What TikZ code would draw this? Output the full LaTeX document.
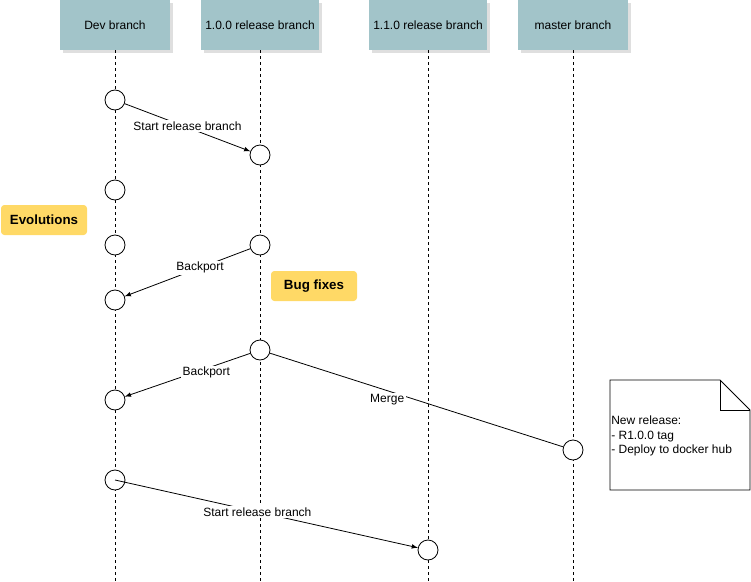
\documentclass[tikz,border=0pt]{standalone}
\usepackage{fontspec}
\setmainfont{Liberation Sans}
\usetikzlibrary{positioning,arrows,shadows}
\definecolor{branchfill}{HTML}{A2C4C9}
\definecolor{notefill}{HTML}{FFD966}
\tikzset{
branchbox/.style={
  rectangle,
  fill=branchfill,
  minimum width=82.5pt,
  minimum height=37.5pt,
  drop shadow={shadow xshift=2pt, shadow yshift=-2pt, fill=black!25}
  },
lifeline/.style={
  dash pattern=on 2.25pt off 2.25pt,
  line width=0.6pt
  },
commit/.style={
  circle,
  draw,
  fill=white,
  inner sep=0pt,
  minimum size=15pt,
  line width=0.6pt
  },
tagbox/.style={
  rectangle,
  rounded corners=2.5pt,
  fill=notefill,
  minimum width=64.5pt,
  minimum height=22.5pt,
  font=\bfseries
  },
msg/.style={
  ->,
  line width=0.6pt
  },
msglabel/.style={
  fill=white,
  inner sep=1pt
  }
}

\begin{document}
\begin{tikzpicture}[>=latex, x=0.75pt, y=-0.75pt, font=\fontsize{9}{11}\selectfont]
\useasboundingbox (0,0) rectangle (751,582);

% branch headers
\node[branchbox] (devh) at (115,25) {Dev branch};
\node[branchbox] (relah) at (260,25) {1.0.0 release branch};
\node[branchbox] (relbh) at (428,25) {1.1.0 release branch};
\node[branchbox] (masth) at (573,25) {master branch};

\coordinate (devend) at (115,582);
\coordinate (relaend) at (260,582);
\coordinate (relbend) at (428,582);
\coordinate (mastend) at (573,582);

\draw[lifeline] (devh.south) -- (devend);
\draw[lifeline] (relah.south) -- (relaend);
\draw[lifeline] (relbh.south) -- (relbend);
\draw[lifeline] (masth.south) -- (mastend);

% commits
\node[commit] (dev1) at (115,100) {};
\node[commit] (dev2) at (115,190) {};
\node[commit] (dev3) at (115,245) {};
\node[commit] (dev4) at (115,300) {};
\node[commit] (dev5) at (115,400) {};
\node[commit] (dev6) at (115,480) {};
\node[commit] (rela1) at (260,155) {};
\node[commit] (rela2) at (260,245) {};
\node[commit] (rela3) at (260,350) {};
\node[commit] (relb1) at (428,550) {};
\node[commit] (mast1) at (573,450) {};

% notes
\node[tagbox] (evol) at (44,220) {Evolutions};
\node[tagbox] (bugs) at (314,286) {Bug fixes};

% release note, folded corner
\draw[line width=0.6pt, fill=white]
  (610,380) -- (720,380) -- (750,410) -- (750,490) -- (610,490) -- cycle;
\draw[line width=0.5pt] (720,380) -- (720,410) -- (750,410);
\node[anchor=west, align=left, inner sep=0pt] (reltext) at (611,436)
  {New release:\\- R1.0.0 tag\\- Deploy to docker hub};

% messages
\draw[msg] (dev1) -- node[msglabel, yshift=1pt] {Start release branch} (rela1);
\draw[msg] (rela2) -- node[msglabel, pos=0.4] {Backport} (dev4);
\draw[msg] (rela3) -- node[msglabel, pos=0.35, yshift=-3pt] {Backport} (dev5);
\draw[line width=0.6pt] (rela3) -- node[msglabel, pos=0.4, yshift=-7pt] {Merge} (mast1);
\draw[msg] (dev6.center) -- node[msglabel, pos=0.47] {Start release branch} (relb1);
\end{tikzpicture}
\end{document}
